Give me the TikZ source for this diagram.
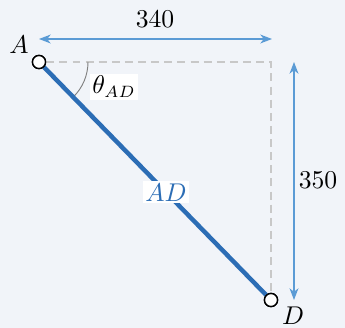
\documentclass[tikz,border=0pt]{standalone}
\usepackage{tikz}
\usetikzlibrary{arrows.meta, calc}
\definecolor{trussbg}{HTML}{F1F4F9}
\definecolor{trussblue}{HTML}{2C6DB5}
\definecolor{dimblue}{HTML}{5B9BD5}
\definecolor{guidegray}{HTML}{C8C8C8}
\tikzset{
  member/.style={line width=1.9pt, draw=trussblue},
  joint/.style={circle, draw=black, fill=white, line width=0.6pt,
                inner sep=0pt, minimum size=5.6pt},
  guide/.style={draw=guidegray, line width=0.5pt, dash pattern=on 3.4pt off 2.2pt},
  dimen/.style={{Stealth[length=5pt, width=3.8pt, inset=1.5pt]}-{Stealth[length=5pt, width=3.8pt, inset=1.5pt]},
                draw=dimblue, line width=0.5pt},
  tag/.style={fill=white, inner sep=1pt},
  pin/.style={inner sep=0pt},
}

\begin{document}
\begin{tikzpicture}[x=0.015cm, y=-0.015cm, font=\fontsize{10.5pt}{12pt}\selectfont]
  \fill[trussbg] (0,0) rectangle (345,328);
  \useasboundingbox (0,0) rectangle (345,328);

  \coordinate (C) at (271,62);
  \node[joint] (A) at (39,62) {};
  \node[joint] (D) at (271,300) {};

  % guide lines
  \draw[guide] (A.east) -- (C) -- (D.north);

  % angle
  \draw[gray, line width=0.4pt] ($(A)+(49,0)$) arc[start angle=0, end angle=45.7, radius=49];
  \node[tag] (th) at (114,87) {$\theta_{AD}$};

  % member
  \draw[member] (A) -- node[tag, text=trussblue, pos=0.55] (lab) {$AD$} (D);
  \node[joint] at (A) {};
  \node[joint] at (D) {};

  % dimensions
  \coordinate (h1) at (39,39);
  \coordinate (h2) at (272,39);
  \draw[dimen] (h1) -- (h2);
  \node (dx) at (155,19) {$340$};
  \coordinate (v1) at (294,62);
  \coordinate (v2) at (294,300);
  \draw[dimen] (v1) -- (v2);
  \node (dy) at (318,180) {$350$};

  \node[pin] (la) at (19,45) {$A$};
  \node[pin] (ld) at (293,316) {$D$};
\end{tikzpicture}
\end{document}
